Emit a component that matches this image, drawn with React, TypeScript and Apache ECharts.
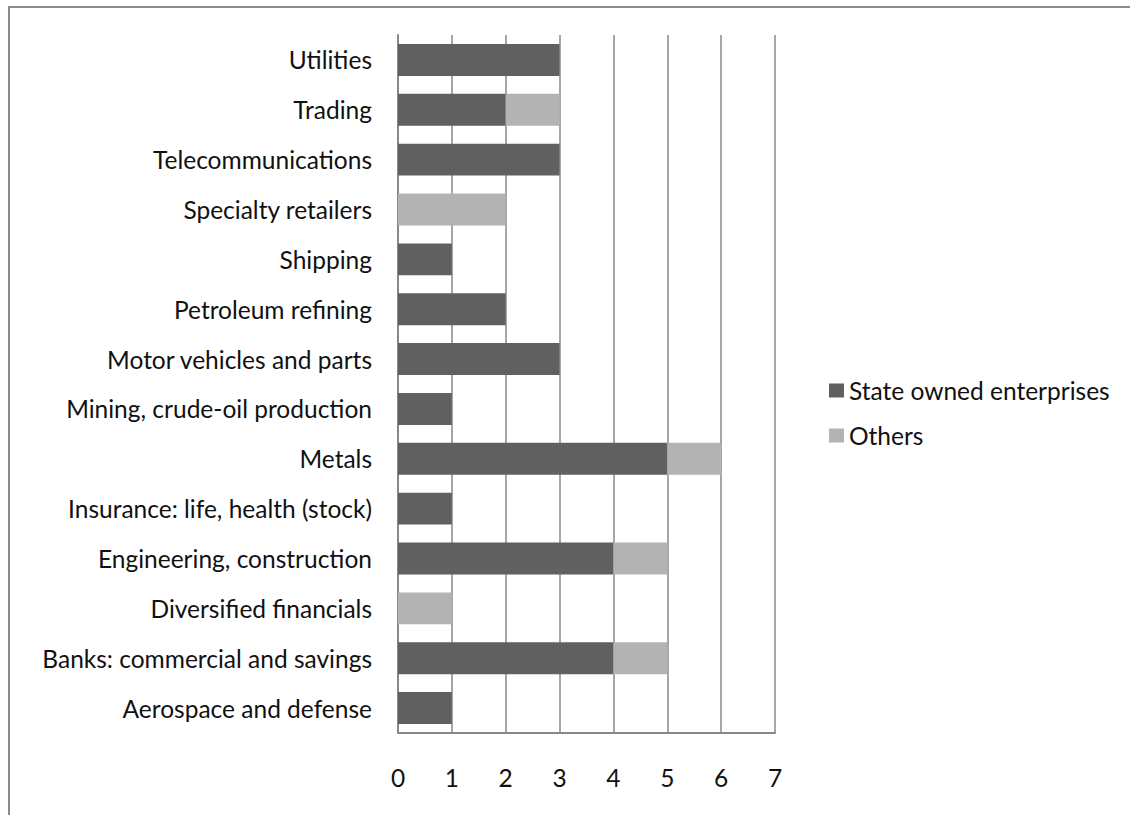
import React, { useEffect, useRef } from "react";
import * as echarts from "echarts";

const categories = [
  "Aerospace and defense",
  "Banks: commercial and savings",
  "Diversified financials",
  "Engineering, construction",
  "Insurance: life, health (stock)",
  "Metals",
  "Mining, crude-oil production",
  "Motor vehicles and parts",
  "Petroleum refining",
  "Shipping",
  "Specialty retailers",
  "Telecommunications",
  "Trading",
  "Utilities",
];
const stateOwned = [1, 4, 0, 4, 1, 5, 1, 3, 2, 1, 0, 3, 2, 3];
const others = [0, 1, 1, 1, 0, 1, 0, 0, 0, 0, 2, 0, 1, 0];
const xTicks = { min: 0, max: 7, interval: 1 };

const FONT = "Lato";
const FS = 24.5;

export default function App() {
  const ref = useRef<HTMLDivElement>(null);
  useEffect(() => {
    document.body.style.margin = "0";
    const chart = echarts.init(ref.current!, null, { renderer: "svg" });
    chart.setOption({
      animation: false,
      textStyle: { fontFamily: FONT },
      grid: { left: 398, right: 355, top: 35, bottom: 82, containLabel: false },
      legend: {
        orient: "vertical",
        left: 824,
        top: 373,
        itemWidth: 15,
        itemHeight: 14,
        itemGap: 20,
        icon: "rect",
        textStyle: { fontFamily: FONT, fontSize: FS, color: "#111" },
        data: ["State owned enterprises", "Others"],
      },
      xAxis: {
        type: "value",
        min: xTicks.min,
        max: xTicks.max,
        interval: xTicks.interval,
        axisLine: { show: true, lineStyle: { color: "#888", width: 2 } },
        axisTick: { show: false },
        axisLabel: { fontFamily: FONT, fontSize: FS, color: "#111", margin: 32 },
        splitLine: { show: true, lineStyle: { color: "#888", width: 1.5 } },
      },
      yAxis: {
        type: "category",
        data: categories,
        axisLine: { show: true, lineStyle: { color: "#888", width: 2 } },
        axisTick: { show: false },
        axisLabel: { fontFamily: FONT, fontSize: FS, color: "#111", margin: 26 },
      },
      series: [
        {
          name: "State owned enterprises",
          type: "bar",
          stack: "total",
          data: stateOwned,
          barCategoryGap: "36%",
          itemStyle: { color: "#606060" },
        },
        {
          name: "Others",
          type: "bar",
          stack: "total",
          data: others,
          barCategoryGap: "36%",
          itemStyle: { color: "#b3b3b3" },
        },
      ],
      graphic: [
        {
          type: "polyline",
          shape: { points: [[9, 815], [9, 7], [1130, 7]] },
          style: { stroke: "#8c8c8c", lineWidth: 2, fill: "none" },
          silent: true,
        },
      ],
    });
    return () => chart.dispose();
  }, []);
  return <div ref={ref} style={{ width: 1130, height: 815 }} />;
}
